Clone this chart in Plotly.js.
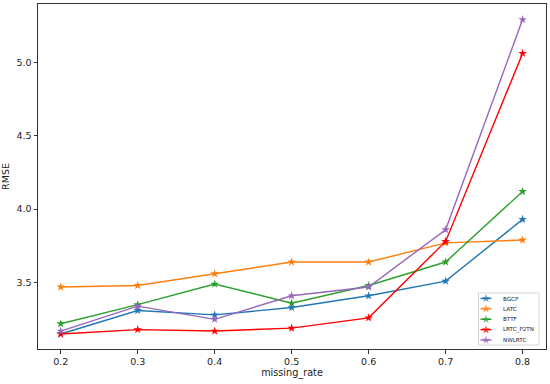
<!DOCTYPE html>
<html><head><meta charset="utf-8">
<script src="https://cdn.plot.ly/plotly-3.0.1.min.js"></script>
<style>html,body{margin:0;padding:0;background:#fff}#c{width:550px;height:384px}</style>
</head><body><div id="c"></div>
<script>
const missingRate = [0.2, 0.3, 0.4, 0.5, 0.6, 0.7, 0.8];
const BGCP = [3.15, 3.31, 3.28, 3.33, 3.41, 3.51, 3.93];
const LATC = [3.47, 3.48, 3.56, 3.64, 3.64, 3.77, 3.79];
const BTTF = [3.22, 3.35, 3.49, 3.36, 3.48, 3.64, 4.12];
const LRTC_P2TN = [3.15, 3.18, 3.17, 3.19, 3.26, 3.78, 5.06];
const NWLRTC = [3.17, 3.34, 3.25, 3.41, 3.47, 3.86, 5.29];
const seriesNames = ['BGCP', 'LATC', 'BTTF', 'LRTC_P2TN', 'NWLRTC'];
const seriesValues = [BGCP, LATC, BTTF, LRTC_P2TN, NWLRTC];
const colors = ['#1f77b4', '#ff7f0e', '#2ca02c', '#ff0000', '#9467bd'];
const xTicks = [0.2, 0.3, 0.4, 0.5, 0.6, 0.7, 0.8];
const yTicks = [3.5, 4.0, 4.5, 5.0];

const traces = seriesNames.map((n, i) => ({
  x: missingRate, y: seriesValues[i], name: n, type: 'scatter', mode: 'lines+markers',
  line: {color: colors[i], width: 1.4},
  marker: {symbol: 'star', size: 6.5, color: colors[i], line: {width: 0}},
  showlegend: false
}));

// custom compact legend drawn on an overlay axis measured in pixels
const L = {x0: 478.5, x1: 539, y0: 293, y1: 345, lineX0: 480.5, lineX1: 491.5, textX: 501, rowY0: 298.5, rowStep: 10.4};
const shapes = [{type: 'rect', xref: 'x2', yref: 'y2', x0: L.x0, x1: L.x1, y0: L.y0, y1: L.y1,
  line: {color: '#d5d5d5', width: 1}, fillcolor: '#ffffff', layer: 'below'}];
const annotations = [];
seriesNames.forEach((n, i) => {
  const ry = L.rowY0 + i * L.rowStep;
  traces.push({x: [L.lineX0, (L.lineX0 + L.lineX1) / 2, L.lineX1], y: [ry, ry, ry],
    xaxis: 'x2', yaxis: 'y2', type: 'scatter', mode: 'lines+markers', showlegend: false,
    line: {color: colors[i], width: 1.4},
    marker: {symbol: 'star', size: [0, 6.5, 0], color: colors[i], line: {width: 0}}});
  annotations.push({xref: 'x2', yref: 'y2', x: L.textX, y: ry, text: n, showarrow: false,
    xanchor: 'left', yanchor: 'middle', font: {family: 'DejaVu Sans', size: 5.6, color: '#222'}});
});

const axisCommon = {showline: true, mirror: true, linecolor: '#333', linewidth: 1,
  ticks: 'outside', ticklen: 3.5, tickcolor: '#333', showgrid: false, zeroline: false,
  tickfont: {family: 'DejaVu Sans', size: 9.5, color: '#222'}};
const layout = {
  width: 550, height: 384, margin: {l: 38, r: 4, t: 4, b: 35},
  paper_bgcolor: '#fff', plot_bgcolor: '#fff', showlegend: false,
  font: {family: 'DejaVu Sans', color: '#222'},
  xaxis: Object.assign({}, axisCommon, {range: [0.1705, 0.8304], tickvals: xTicks,
    ticktext: xTicks.map(v => v.toFixed(1)),
    title: {text: 'missing_rate', font: {family: 'DejaVu Sans', size: 9.7, color: '#222'}, standoff: 3}}),
  yaxis: Object.assign({}, axisCommon, {range: [3.048, 5.396], tickvals: yTicks,
    ticktext: yTicks.map(v => v.toFixed(1)),
    title: {text: 'RMSE', font: {family: 'DejaVu Sans', size: 9.5, color: '#222'}, standoff: 5}}),
  xaxis2: {overlaying: 'x', anchor: 'y2', range: [38, 546], visible: false, fixedrange: true},
  yaxis2: {overlaying: 'y', anchor: 'x2', range: [349, 4], visible: false, fixedrange: true},
  shapes: shapes, annotations: annotations
};
Plotly.newPlot('c', traces, layout, {staticPlot: true});
</script></body></html>
